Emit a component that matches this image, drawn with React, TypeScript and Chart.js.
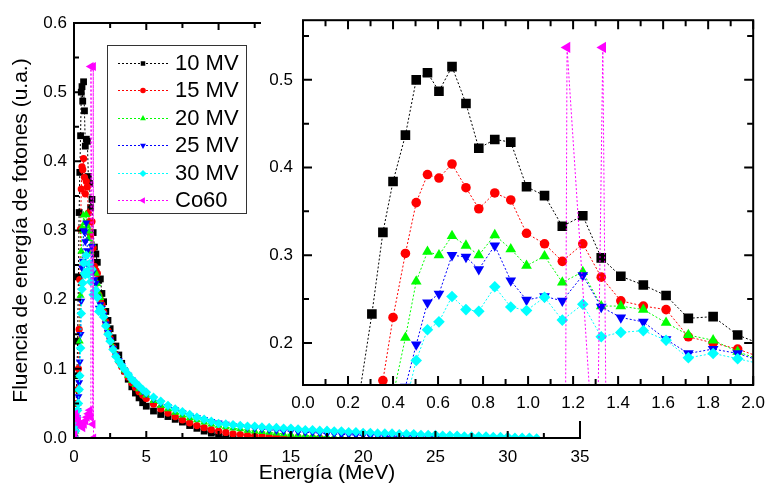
import React, { useEffect, useRef } from "react";
import { Chart, registerables } from "chart.js";
import { drawPoint } from "chart.js/helpers";

Chart.register(...registerables);

const FONT = "'Liberation Sans', Arial, sans-serif";

// ---------- DATA ----------
// Energy bins (MeV) below 2 MeV (shared by the accelerator spectra)
const lowEnergies = [0.05, 0.1, 0.15, 0.2, 0.25, 0.306, 0.355, 0.40, 0.455, 0.503, 0.553, 0.604, 0.662, 0.724, 0.781, 0.852, 0.923, 0.993, 1.073, 1.152, 1.243, 1.325, 1.412, 1.512, 1.613, 1.712, 1.822, 1.931];
// Energy bins (MeV) above 2 MeV
const tailEnergies = [2.05, 2.2, 2.35, 2.5, 2.7, 2.9, 3.1, 3.3, 3.5, 3.75, 4.0, 4.25, 4.5, 4.75, 5.0, 5.5, 6.0, 6.5, 7.0, 7.5, 8.0, 8.5, 9.0, 9.5, 10.0, 10.5, 11.0, 11.5, 12.0, 12.5, 13.0, 13.5, 14.0, 14.5, 15.0, 15.5, 16.0, 16.5, 17.0, 17.5, 18.0, 18.5, 19.0, 19.5, 20.0, 20.5, 21.0, 21.5, 22.0, 22.5, 23.0, 23.5, 24.0, 24.5, 25.0, 25.5, 26.0, 26.5, 27.0, 27.5, 28.0, 28.5, 29.0, 29.5, 30.0, 30.5, 31.0, 31.5, 32.0];

const mv10Low = [0.0, 0.02, 0.05, 0.09, 0.14, 0.233, 0.326, 0.384, 0.437, 0.500, 0.508, 0.487, 0.515, 0.473, 0.422, 0.432, 0.429, 0.378, 0.368, 0.333, 0.345, 0.297, 0.276, 0.266, 0.254, 0.228, 0.230, 0.209];
const mv10Tail = [0.197, 0.183, 0.170, 0.158, 0.145, 0.133, 0.120, 0.108, 0.097, 0.085, 0.074, 0.065, 0.058, 0.051, 0.046, 0.039, 0.034, 0.031, 0.027, 0.023, 0.018, 0.014, 0.010, 0.007, 0.003, 0.001, 0.0];

const mv15Low = [0.0, 0.01, 0.03, 0.05, 0.07, 0.10, 0.157, 0.229, 0.302, 0.360, 0.392, 0.388, 0.404, 0.377, 0.353, 0.371, 0.363, 0.325, 0.313, 0.293, 0.313, 0.275, 0.248, 0.242, 0.238, 0.207, 0.200, 0.193];
const mv15Tail = [0.182, 0.168, 0.155, 0.144, 0.131, 0.120, 0.111, 0.103, 0.096, 0.088, 0.080, 0.073, 0.067, 0.062, 0.057, 0.049, 0.042, 0.036, 0.031, 0.026, 0.022, 0.018, 0.015, 0.012, 0.010, 0.008, 0.006, 0.005, 0.004, 0.003, 0.003, 0.002, 0.002, 0.001, 0.001, 0.001, 0.0, 0.0, 0.0];

const mv20Low = [0.0, 0.01, 0.02, 0.03, 0.05, 0.07, 0.09, 0.14, 0.206, 0.270, 0.304, 0.300, 0.322, 0.311, 0.300, 0.323, 0.307, 0.288, 0.299, 0.269, 0.281, 0.242, 0.242, 0.238, 0.223, 0.209, 0.203, 0.190];
const mv20Tail = [0.179, 0.166, 0.154, 0.143, 0.131, 0.120, 0.112, 0.105, 0.098, 0.090, 0.083, 0.077, 0.071, 0.066, 0.062, 0.054, 0.047, 0.042, 0.037, 0.033, 0.029, 0.026, 0.023, 0.020, 0.018, 0.016, 0.014, 0.013, 0.011, 0.010, 0.009, 0.008, 0.007, 0.006, 0.005, 0.004, 0.004, 0.003, 0.002, 0.002, 0.001, 0.001, 0.0, 0.0, 0.0];

const mv25Low = [0.0, 0.01, 0.02, 0.03, 0.04, 0.06, 0.08, 0.11, 0.15, 0.198, 0.246, 0.256, 0.300, 0.298, 0.284, 0.311, 0.271, 0.249, 0.253, 0.248, 0.277, 0.241, 0.229, 0.224, 0.204, 0.188, 0.193, 0.188];
const mv25Tail = [0.178, 0.165, 0.153, 0.142, 0.130, 0.120, 0.112, 0.105, 0.098, 0.091, 0.084, 0.078, 0.073, 0.068, 0.064, 0.057, 0.051, 0.046, 0.041, 0.037, 0.033, 0.030, 0.027, 0.024, 0.022, 0.020, 0.018, 0.017, 0.015, 0.014, 0.013, 0.012, 0.011, 0.010, 0.010, 0.009, 0.008, 0.008, 0.007, 0.006, 0.006, 0.005, 0.005, 0.004, 0.004, 0.003, 0.003, 0.002, 0.002, 0.002, 0.001, 0.001, 0.001, 0.0, 0.0, 0.0];

const mv30Low = [0.0, 0.01, 0.02, 0.03, 0.04, 0.05, 0.07, 0.09, 0.13, 0.180, 0.215, 0.224, 0.253, 0.238, 0.236, 0.264, 0.241, 0.237, 0.252, 0.226, 0.244, 0.207, 0.212, 0.214, 0.203, 0.183, 0.188, 0.182];
const mv30Tail = [0.175, 0.162, 0.150, 0.140, 0.128, 0.118, 0.111, 0.105, 0.099, 0.092, 0.085, 0.080, 0.075, 0.070, 0.066, 0.059, 0.053, 0.047, 0.042, 0.038, 0.034, 0.030, 0.027, 0.024, 0.021, 0.020, 0.019, 0.018, 0.017, 0.017, 0.016, 0.015, 0.015, 0.014, 0.014, 0.013, 0.012, 0.012, 0.011, 0.011, 0.010, 0.010, 0.009, 0.009, 0.008, 0.008, 0.007, 0.007, 0.007, 0.006, 0.006, 0.006, 0.005, 0.005, 0.005, 0.004, 0.004, 0.004, 0.003, 0.003, 0.003, 0.003, 0.002, 0.002, 0.002, 0.001, 0.001, 0.001, 0.0];

const co60Energies = [0.05, 0.1, 0.2, 0.3, 0.4, 0.5, 0.6, 0.7, 0.8, 0.9, 1.0, 1.1, 1.165, 1.173, 1.305, 1.332, 1.35];
const co60Values = [0.005, 0.035, 0.03, 0.025, 0.02, 0.018, 0.015, 0.02, 0.025, 0.03, 0.035, 0.04, 0.03, 0.537, 0.02, 0.537, 0.0];

const seriesNames = ["10 MV", "15 MV", "20 MV", "25 MV", "30 MV", "Co60"];

// Tick values
const mainXTicks = [0, 5, 10, 15, 20, 25, 30, 35];
const mainXMinor = [2.5, 7.5, 12.5, 17.5, 22.5, 27.5, 32.5];
const mainYTicks = [0, 0.1, 0.2, 0.3, 0.4, 0.5, 0.6];
const mainYMinor = [0.05, 0.15, 0.25, 0.35, 0.45, 0.55];
const insetXTicks = [0, 0.2, 0.4, 0.6, 0.8, 1.0, 1.2, 1.4, 1.6, 1.8, 2.0];
const insetXMinor = [0.1, 0.3, 0.5, 0.7, 0.9, 1.1, 1.3, 1.5, 1.7, 1.9];
const insetYTicks = [0.2, 0.3, 0.4, 0.5];
const insetYMinor = [0.25, 0.35, 0.45, 0.55];

// ---------- STYLES ----------
const colors = ["#000000", "#ff0000", "#00ff00", "#0000ff", "#00ffff", "#ff00ff"];
const pointStyles = ["rect", "circle", "triangle", "triangle", "rectRot", "triangle"];
const rotations = [0, 0, 0, 180, 0, 270];
const mainRadii = [4.8, 3.6, 4.6, 4.6, 4.8, 5.2];
const insetRadii = [6.8, 4.8, 6.2, 6.2, 5.8, 6.4];
const legendRadii = [3.2, 2.8, 3.4, 3.4, 3.6, 3.8];

function zip(energies: number[], values: number[]) {
  const n = Math.min(energies.length, values.length);
  const out: { x: number; y: number }[] = [];
  for (let i = 0; i < n; i++) out.push({ x: energies[i], y: values[i] });
  return out;
}

const seriesData = [
  [...zip(lowEnergies, mv10Low), ...zip(tailEnergies, mv10Tail)],
  [...zip(lowEnergies, mv15Low), ...zip(tailEnergies, mv15Tail)],
  [...zip(lowEnergies, mv20Low), ...zip(tailEnergies, mv20Tail)],
  [...zip(lowEnergies, mv25Low), ...zip(tailEnergies, mv25Tail)],
  [...zip(lowEnergies, mv30Low), ...zip(tailEnergies, mv30Tail)],
  zip(co60Energies, co60Values),
];

function makeDatasets(radii: number[]) {
  return seriesData.map((d, i) => ({
    label: seriesNames[i],
    data: d,
    showLine: true,
    borderColor: colors[i],
    backgroundColor: colors[i],
    borderWidth: 1,
    borderDash: [2, 2],
    pointStyle: pointStyles[i],
    rotation: rotations[i],
    pointRotation: rotations[i],
    pointRadius: radii[i],
    pointBorderWidth: 0,
    pointBackgroundColor: colors[i],
    pointBorderColor: colors[i],
    tension: 0,
    fill: false,
    order: 5 - i,
  }));
}

const framePlugin = {
  id: "frame",
  afterDatasetsDraw(chart: any, _args: any, opts: any) {
    const { ctx, chartArea: a } = chart;
    const xs = chart.scales.x;
    const ys = chart.scales.y;
    ctx.save();
    ctx.setLineDash([]);
    ctx.strokeStyle = "#000";
    ctx.lineWidth = 2;
    ctx.beginPath();
    const tx = (v: number, len: number) => {
      const p = xs.getPixelForValue(v);
      ctx.moveTo(p, a.bottom);
      ctx.lineTo(p, a.bottom - len);
      ctx.moveTo(p, a.top);
      ctx.lineTo(p, a.top + len);
    };
    const ty = (v: number, len: number) => {
      const p = ys.getPixelForValue(v);
      ctx.moveTo(a.left, p);
      ctx.lineTo(a.left + len, p);
      ctx.moveTo(a.right, p);
      ctx.lineTo(a.right - len, p);
    };
    xs.ticks.forEach((t: any) => tx(t.value, opts.major));
    opts.xMinor.forEach((v: number) => tx(v, opts.minor));
    ys.ticks.forEach((t: any) => ty(t.value, opts.major));
    opts.yMinor.forEach((v: number) => {
      if (v >= ys.min && v <= ys.max) ty(v, opts.minor);
    });
    ctx.stroke();
    ctx.strokeRect(a.left, a.top, a.right - a.left, a.bottom - a.top);
    ctx.restore();
  },
};

const legendPlugin = {
  id: "boxLegend",
  afterDraw(chart: any) {
    const ctx = chart.ctx;
    ctx.save();
    const L = 107, T = 45, W = 139, H = 168;
    ctx.fillStyle = "#fff";
    ctx.fillRect(L, T, W, H);
    ctx.strokeStyle = "#333";
    ctx.lineWidth = 1;
    ctx.strokeRect(L + 0.5, T + 0.5, W, H);
    seriesNames.forEach((name, i) => {
      const y = 63 + i * 27.4;
      ctx.strokeStyle = colors[i];
      ctx.setLineDash([2, 2]);
      ctx.lineWidth = 1;
      ctx.beginPath();
      ctx.moveTo(118, Math.round(y) + 0.5);
      ctx.lineTo(168, Math.round(y) + 0.5);
      ctx.stroke();
      ctx.setLineDash([]);
      ctx.fillStyle = colors[i];
      drawPoint(ctx, { pointStyle: pointStyles[i] as any, rotation: rotations[i], radius: legendRadii[i], borderWidth: 0 }, 143, Math.round(y) + 0.5);
      ctx.fillStyle = "#000";
      ctx.font = `22px ${FONT}`;
      ctx.textBaseline = "middle";
      ctx.textAlign = "left";
      ctx.fillText(name, 175, y + 1);
    });
    ctx.restore();
  },
};

export default function App() {
  const mainRef = useRef<HTMLCanvasElement>(null);
  const insetRef = useRef<HTMLCanvasElement>(null);

  useEffect(() => {
    document.body.style.margin = "0";
    const tickFont = { family: FONT, size: 17 };

    const main = new Chart(mainRef.current as HTMLCanvasElement, {
      type: "scatter",
      data: { datasets: makeDatasets(mainRadii) as any },
      options: {
        animation: false,
        responsive: false,
        devicePixelRatio: 1,
        layout: { padding: { left: 0, top: 23, right: 193, bottom: 0 } },
        plugins: {
          legend: { display: false },
          tooltip: { enabled: false },
          frame: { xMinor: mainXMinor, yMinor: mainYMinor, major: 7, minor: 5 },
        } as any,
        scales: {
          x: {
            type: "linear",
            min: 0,
            max: 35,
            afterBuildTicks: (s: any) => { s.ticks = mainXTicks.map((v) => ({ value: v })); },
            afterFit: (s: any) => { s.height = 53; },
            grid: { display: false, drawTicks: false },
            border: { display: false },
            ticks: { font: tickFont, color: "#000", padding: 9, autoSkip: false, maxRotation: 0, callback: (v: any) => String(v) },
            title: { display: true, text: "Energía (MeV)", color: "#000", font: { family: FONT, size: 21 }, padding: { top: 0, bottom: 5 } },
          },
          y: {
            type: "linear",
            min: 0,
            max: 0.6,
            afterBuildTicks: (s: any) => { s.ticks = mainYTicks.map((v) => ({ value: v })); },
            afterFit: (s: any) => { s.width = 74; },
            grid: { display: false, drawTicks: false },
            border: { display: false },
            ticks: { font: tickFont, color: "#000", padding: 7, autoSkip: false, callback: (v: any) => Number(v).toFixed(1) },
            title: { display: true, text: "Fluencia de energía de fotones (u.a.)", color: "#000", font: { family: FONT, size: 21 }, padding: { top: 9, bottom: 0 } },
          },
        },
      } as any,
      plugins: [framePlugin, legendPlugin],
    });

    const inset = new Chart(insetRef.current as HTMLCanvasElement, {
      type: "scatter",
      data: { datasets: makeDatasets(insetRadii) as any },
      options: {
        animation: false,
        responsive: false,
        devicePixelRatio: 1,
        layout: { padding: { left: 0, top: 13, right: 14, bottom: 0 } },
        plugins: {
          legend: { display: false },
          tooltip: { enabled: false },
          frame: { xMinor: insetXMinor, yMinor: insetYMinor, major: 9, minor: 6 },
        } as any,
        scales: {
          x: {
            type: "linear",
            min: 0,
            max: 2,
            afterBuildTicks: (s: any) => { s.ticks = insetXTicks.map((v) => ({ value: v })); },
            afterFit: (s: any) => { s.height = 36; },
            grid: { display: false, drawTicks: false },
            border: { display: false },
            ticks: { font: tickFont, color: "#000", padding: 8, autoSkip: false, maxRotation: 0, callback: (v: any) => Number(v).toFixed(1) },
          },
          y: {
            type: "linear",
            min: 0.152,
            max: 0.568,
            afterBuildTicks: (s: any) => { s.ticks = insetYTicks.map((v) => ({ value: v })); },
            afterFit: (s: any) => { s.width = 42; },
            grid: { display: false, drawTicks: false },
            border: { display: false },
            ticks: { font: tickFont, color: "#000", padding: 10, autoSkip: false, callback: (v: any) => Number(v).toFixed(1) },
          },
        },
      } as any,
      plugins: [framePlugin],
    });

    return () => {
      main.destroy();
      inset.destroy();
    };
  }, []);

  return (
    <div style={{ position: "relative", width: 773, height: 491, background: "#fff", overflow: "hidden" }}>
      <canvas ref={mainRef} width={773} height={491} style={{ position: "absolute", left: 0, top: 0, width: 773, height: 491 }} />
      <div style={{ position: "absolute", left: 261, top: 0, width: 512, height: 421, background: "#fff" }}>
        <canvas ref={insetRef} width={512} height={421} style={{ display: "block", width: 512, height: 421 }} />
      </div>
    </div>
  );
}
